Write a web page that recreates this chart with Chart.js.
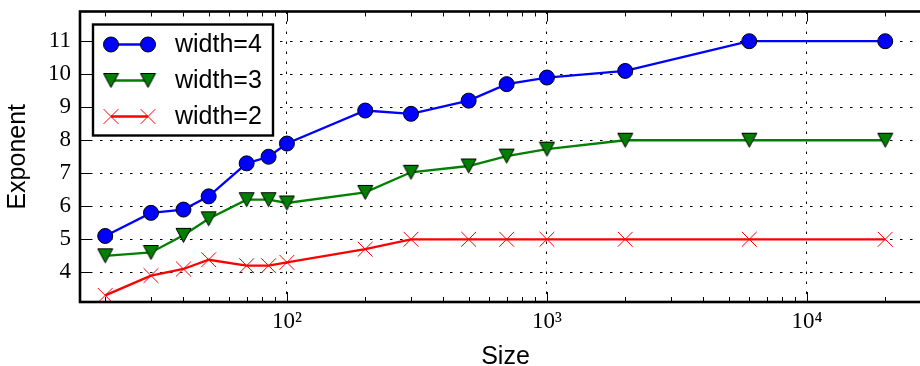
<!DOCTYPE html>
<html>
<head>
<meta charset="utf-8">
<script src="https://cdn.jsdelivr.net/npm/chart.js@4/dist/chart.umd.min.js"></script>
<style>
  html, body { margin: 0; padding: 0; background: #fff; overflow: hidden; width: 920px; height: 366px; }
  #chart { display: block; }
</style>
</head>
<body>
<canvas id="chart" width="950" height="366"></canvas>
<script>
// data
const sizes = [20, 30, 40, 50, 70, 85, 100, 200, 300, 500, 700, 1000, 2000, 6000, 20000];
const width4 = [5.1, 5.8, 5.9, 6.3, 7.3, 7.5, 7.9, 8.9, 8.8, 9.2, 9.7, 9.9, 10.1, 11, 11];
const width3 = [4.5, 4.6, 5.12, 5.62, 6.2, 6.2, 6.1, 6.42, 7.03, 7.22, 7.52, 7.73, 8, 8, 8];
const width2 = [3.3, 3.9, 4.1, 4.38, 4.2, 4.2, 4.3, 4.7, 5, 5, 5, 5, 5, 5, 5];
const seriesLabels = ['width=4', 'width=3', 'width=2'];
const yTicks = [4, 5, 6, 7, 8, 9, 10, 11];
const xMajorTicks = [100, 1000, 10000];
const xTickLabels = ['10²', '10³', '10⁴'];

const X_MIN = 16, X_MAX = 30000;
const serif = 'Liberation Serif, DejaVu Serif, serif';
const sans = 'Liberation Sans, Arial, sans-serif';

// minor ticks 2..9 x each decade
const xAllTicks = [];
[10, 100, 1000, 10000].forEach(d => {
  for (let m = 1; m <= 9; m++) {
    const v = d * m;
    if (v >= X_MIN && v <= X_MAX) xAllTicks.push(v);
  }
});

// matplotlib style down triangle (centred on its box)
const tri = document.createElement('canvas');
tri.width = 17; tri.height = 17;
(function () {
  const c = tri.getContext('2d');
  c.beginPath();
  c.moveTo(1, 1.5); c.lineTo(16, 1.5); c.lineTo(8.5, 15.5); c.closePath();
  c.fillStyle = '#008000'; c.fill();
  c.lineWidth = 1; c.strokeStyle = '#000'; c.stroke();
})();

function toPoints(ys) {
  return sizes.map((s, i) => ({ x: s, y: ys[i] }));
}

const datasets = [
  {
    label: seriesLabels[0], data: toPoints(width4),
    borderColor: '#0000ff', borderWidth: 2.3, tension: 0,
    pointStyle: 'circle', pointRadius: 7.5, pointBackgroundColor: '#0000ff',
    pointBorderColor: '#000', pointBorderWidth: 1
  },
  {
    label: seriesLabels[1], data: toPoints(width3),
    borderColor: '#008000', borderWidth: 2.3, tension: 0,
    pointStyle: tri, pointRadius: 8
  },
  {
    label: seriesLabels[2], data: toPoints(width2),
    borderColor: '#ff0000', borderWidth: 2.3, tension: 0,
    pointStyle: 'crossRot', pointRadius: 10.5, pointBackgroundColor: '#ff0000',
    pointBorderColor: '#ff0000', pointBorderWidth: 1
  }
];

function drawMarker(ctx, ds, x, y) {
  ctx.save();
  if (ds.pointStyle === 'circle') {
    ctx.beginPath();
    ctx.arc(x, y, ds.pointRadius, 0, Math.PI * 2);
    ctx.fillStyle = ds.pointBackgroundColor; ctx.fill();
    ctx.lineWidth = 1; ctx.strokeStyle = '#000'; ctx.stroke();
  } else if (ds.pointStyle === 'crossRot') {
    const o = ds.pointRadius * Math.SQRT1_2;
    ctx.beginPath();
    ctx.moveTo(x - o, y - o); ctx.lineTo(x + o, y + o);
    ctx.moveTo(x - o, y + o); ctx.lineTo(x + o, y - o);
    ctx.lineWidth = 1; ctx.strokeStyle = ds.pointBorderColor; ctx.stroke();
  } else {
    ctx.drawImage(ds.pointStyle, x - ds.pointStyle.width / 2, y - ds.pointStyle.height / 2);
  }
  ctx.restore();
}

const framePlugin = {
  id: 'frame',
  beforeDatasetsDraw(chart) {
    const { ctx, chartArea: a, scales: { x, y } } = chart;
    ctx.save();
    ctx.strokeStyle = '#000';
    ctx.lineWidth = 1;
    ctx.beginPath();
    xAllTicks.forEach(v => {
      const px = Math.round(x.getPixelForValue(v)) + 0.5;
      const len = xMajorTicks.includes(v) ? 10 : 5;
      ctx.moveTo(px, a.bottom); ctx.lineTo(px, a.bottom - len);
      ctx.moveTo(px, a.top); ctx.lineTo(px, a.top + len);
    });
    yTicks.forEach(v => {
      const py = Math.round(y.getPixelForValue(v)) + 0.5;
      ctx.moveTo(a.left, py); ctx.lineTo(a.left + 10, py);
      ctx.moveTo(a.right, py); ctx.lineTo(a.right - 10, py);
    });
    ctx.stroke();
    ctx.restore();
  },
  afterDatasetsDraw(chart) {
    const { ctx, chartArea: a } = chart;
    ctx.save();
    ctx.lineWidth = 2.6;
    ctx.strokeStyle = '#000';
    ctx.strokeRect(a.left, a.top, a.right - a.left, a.bottom - a.top);

    // legend box, upper left
    const lx = a.left + 13, ly = a.top + 13, lw = 180, lh = 111;
    ctx.fillStyle = '#fff';
    ctx.fillRect(lx, ly, lw, lh);
    ctx.lineWidth = 2.4;
    ctx.strokeRect(lx, ly, lw, lh);
    chart.data.datasets.forEach((ds, i) => {
      const ry = ly + 20 + i * 36;
      const x1 = lx + 18, x2 = lx + 55;
      ctx.beginPath();
      ctx.moveTo(x1, ry); ctx.lineTo(x2, ry);
      ctx.lineWidth = ds.borderWidth; ctx.strokeStyle = ds.borderColor;
      ctx.stroke();
      drawMarker(ctx, ds, x1, ry);
      drawMarker(ctx, ds, x2, ry);
      ctx.fillStyle = '#000';
      ctx.font = '25px ' + sans;
      ctx.textBaseline = 'middle';
      ctx.textAlign = 'left';
      ctx.fillText(ds.label, lx + 82, ry + 1);
    });
    ctx.restore();
  }
};

const ctx = document.getElementById('chart').getContext('2d');
const myChart = new Chart(ctx, {
  type: 'line',
  data: { datasets: datasets },
  options: {
    animation: false,
    responsive: false,
    layout: { padding: { left: 0, top: 9, right: 19, bottom: 0 } },
    plugins: { legend: { display: false }, tooltip: { enabled: false } },
    scales: {
      x: {
        type: 'logarithmic',
        min: X_MIN,
        max: X_MAX,
        afterBuildTicks: s => { s.ticks = xAllTicks.map(v => ({ value: v })); },
        afterFit: s => { s.height = 64; s.paddingLeft = 0; s.paddingRight = 0; },
        ticks: {
          autoSkip: false, maxRotation: 0, minRotation: 0,
          color: '#000', padding: 6,
          font: { family: serif, size: 23 },
          callback: v => {
            const i = xMajorTicks.indexOf(v);
            return i >= 0 ? xTickLabels[i] : '';
          }
        },
        grid: {
          drawTicks: false, lineWidth: 1,
          color: c => (c.tick && xMajorTicks.includes(c.tick.value)) ? '#000' : 'rgba(0,0,0,0)'
        },
        border: { display: false, dash: [2.5, 7.5] },
        title: {
          display: true, text: 'Size', color: '#000', padding: 0,
          font: { family: sans, size: 25, lineHeight: 0.7 }
        }
      },
      y: {
        min: 3.1,
        max: 11.9,
        afterBuildTicks: s => { s.ticks = yTicks.map(v => ({ value: v })); },
        afterFit: s => { s.width = 80; s.paddingTop = 0; s.paddingBottom = 0; },
        ticks: { color: '#000', padding: 9, font: { family: serif, size: 23 } },
        grid: { drawTicks: false, lineWidth: 1, color: '#000' },
        border: { display: false, dash: [2.5, 7.5] },
        title: {
          display: true, text: 'Exponent', color: '#000',
          padding: { top: 3, bottom: 0 },
          font: { family: sans, size: 25, lineHeight: 1.2 }
        }
      }
    }
  },
  plugins: [framePlugin]
});
</script>
</body>
</html>
